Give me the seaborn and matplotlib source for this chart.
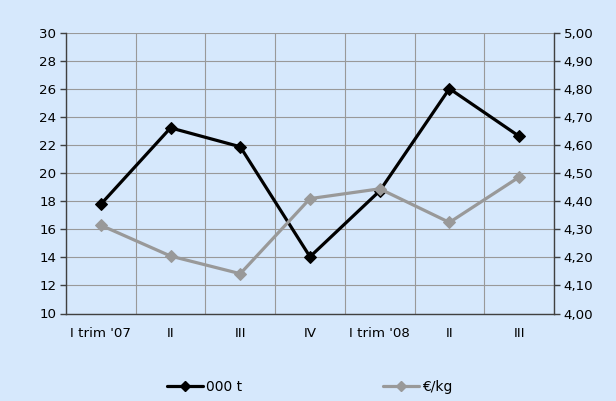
import numpy as np
import pandas as pd
import matplotlib
matplotlib.use("Agg")
import matplotlib.pyplot as plt
import seaborn as sns
from matplotlib.lines import Line2D

categories = ["I trim '07", "II", "III", "IV", "I trim '08", "II", "III"]
tonnes = [17.8, 23.25, 21.9, 14.05, 18.75, 26.05, 22.65]
price = [4.315, 4.205, 4.142, 4.41, 4.445, 4.325, 4.487]
left_ticks = [10, 12, 14, 16, 18, 20, 22, 24, 26, 28, 30]
right_ticks = [4.0, 4.1, 4.2, 4.3, 4.4, 4.5, 4.6, 4.7, 4.8, 4.9, 5.0]
series_names = ["000 t", "€/kg"]

sns.set_style("white")
plt.rcParams['font.family'] = ['DejaVu Sans']
plt.rcParams['text.color'] = 'black'
plt.rcParams['xtick.color'] = 'black'
plt.rcParams['ytick.color'] = 'black'

bg = '#D6E8FC'
df = pd.DataFrame({"pos": np.arange(len(categories)), "t": tonnes, "p": price})

fig = plt.figure(figsize=(6.16, 4.01), dpi=100, facecolor=bg)
ax = fig.add_axes([66/616, 1-313.5/401, (554-66)/616, (313.5-33.3)/401])
ax.set_facecolor(bg)

sns.lineplot(data=df, x="pos", y="t", ax=ax, color='black', marker='D',
             markersize=6, linewidth=2.3, markeredgecolor='black', legend=False)
ax2 = ax.twinx()
sns.lineplot(data=df, x="pos", y="p", ax=ax2, color='#999999', marker='D',
             markersize=6, linewidth=2.3, markeredgecolor='#999999', legend=False)

ax.set_xlim(-0.5, len(categories) - 0.5)
ax.set_ylim(10, 30)
ax2.set_ylim(4.0, 5.0)
ax.set_yticks(left_ticks)
ax.set_yticklabels([str(v) for v in left_ticks], fontsize=9.6)
ax2.set_yticks(right_ticks)
ax2.set_yticklabels([f"{v:.2f}".replace('.', ',') for v in right_ticks], fontsize=9.6)

ax.set_xticks(np.arange(len(categories)))
ax.set_xticklabels(categories, fontsize=9.6)
ax.set_xticks(np.arange(-0.5, len(categories), 1), minor=True)
ax.tick_params(axis='x', which='major', length=0, pad=10, labelcolor='black')
ax.tick_params(axis='x', which='minor', length=4, width=1, color='#404040', direction='out')
ax.tick_params(axis='y', length=4, width=1, color='#404040', direction='out', pad=3, labelcolor='black')
ax2.tick_params(axis='y', length=4, width=1, color='#404040', direction='out', pad=3, labelcolor='black')

ax.set_xlabel("")
ax.set_ylabel("")
ax2.set_ylabel("")

ax.grid(True, axis='y', which='major', color='#999999', linewidth=0.8)
ax.grid(True, axis='x', which='minor', color='#999999', linewidth=0.8)
ax.grid(False, axis='x', which='major')
ax.set_axisbelow(True)

for a in (ax, ax2):
    for s in a.spines.values():
        s.set_visible(False)
ax.spines['left'].set_visible(True)
ax.spines['bottom'].set_visible(True)
ax2.spines['right'].set_visible(True)
for s in (ax.spines['left'], ax.spines['bottom'], ax2.spines['right']):
    s.set_color('#404040')
    s.set_linewidth(1)

handles = [
    Line2D([], [], color='black', marker='D', markersize=5, linewidth=2.3),
    Line2D([], [], color='#999999', marker='D', markersize=5, linewidth=2.3),
]
fig.legend(handles, series_names, loc='center', bbox_to_anchor=(0.503, 0.036),
           ncol=2, frameon=False, fontsize=10, handlelength=2.6,
           handletextpad=0.25, columnspacing=10.1, labelcolor='black')

fig.savefig("out.png", dpi=100, facecolor=bg)
